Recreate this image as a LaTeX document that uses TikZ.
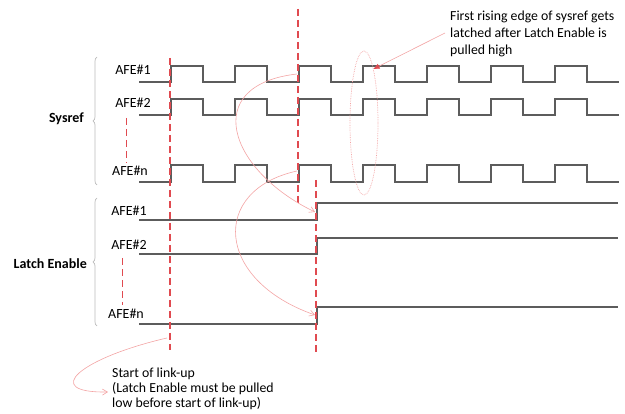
\documentclass[tikz,border=0pt]{standalone}
\usepackage{fontspec}
\setmainfont{Carlito}
\usepackage{tikz}
\usetikzlibrary{positioning, arrows.meta, shapes.geometric, decorations.pathreplacing}
\definecolor{wavegray}{HTML}{5C5C5C}
\definecolor{markred}{HTML}{E04A50}
\definecolor{annopink}{HTML}{F3A3A3}
\definecolor{bracegray}{HTML}{BBBBBB}

\begin{document}
\begin{tikzpicture}[
    x=1pt, y=-1pt,
    wave/.style={draw=wavegray, line width=1.3pt, line join=miter},
    markline/.style={draw=markred, line width=1.2pt, dash pattern=on 7pt off 4pt},
    annot/.style={draw=annopink, line width=0.6pt, -{Straight Barb[length=5pt, width=6pt]}},
    afelabel/.style={font=\fontsize{14}{16}\selectfont, inner sep=0pt},
    grouplabel/.style={font=\fontsize{14}{16}\selectfont\bfseries, inner sep=0pt},
    notetext/.style={font=\fontsize{13.8}{17}\selectfont, align=left, inner sep=0pt},
    linktext/.style={font=\fontsize{13.8}{15}\selectfont, align=left, inner sep=0pt},
    groupbrace/.style={draw=bracegray, line width=0.7pt, decorate, decoration={brace, amplitude=4pt}}
]
\useasboundingbox (0,0) rectangle (625,414);

% --- LABELS ---
\node[grouplabel, anchor=east] (sysref) at (84,119) {Sysref};
\node[grouplabel, anchor=east] (latch) at (87,264) {Latch Enable};

\node[afelabel] (s1) at (133,70) {AFE\#1};
\node[afelabel] (s2) at (133,103) {AFE\#2};
\node[afelabel] (sn) at (130,171) {AFE\#n};
\node[afelabel] (l1) at (129,211) {AFE\#1};
\node[afelabel] (l2) at (129,245) {AFE\#2};
\node[afelabel] (ln) at (126,314) {AFE\#n};

% Klammern
\draw[groupbrace] (97,185) -- (97,57);
\draw[groupbrace] (97,326) -- (97,198);

% kleine Striche zwischen AFE#2 und AFE#n
\draw[markline, line width=1pt] (126,118) -- (126,163);
\draw[markline, line width=1pt] (122,258) -- (122,305);

% --- SIGNALE ---
% Sysref: Takt mit Periode 64
\foreach \hi/\lo in {66/82, 99/115, 165/182}
  \draw[wave] (139,\lo) -- (171,\lo)
    foreach \k in {0,...,6} { -- ++(0,\hi-\lo) -- ++(32,0) -- ++(0,\lo-\hi) -- ++(32,0) };

% Latch Enable: Sprung bei x=317
\foreach \hi/\lo in {203/220, 238/254, 307/324}
  \draw[wave] (139,\lo) -- (317,\lo) -- (317,\hi) -- (618,\hi);

% --- MARKIERUNGEN ---
\coordinate (linkstart) at (170,58);
\coordinate (linkend) at (170,350);
\coordinate (sysedge) at (298,9);
\coordinate (sysedgeend) at (298,203);
\coordinate (latchedge) at (316,180);
\coordinate (latchedgeend) at (316,352);

\draw[markline] (linkstart) -- (linkend);
\draw[markline] (sysedge) -- (sysedgeend);
\draw[markline] (latchedge) -- (latchedgeend);

% --- ANMERKUNGEN ---
\coordinate (s1rise) at (297,74);
\coordinate (snrise) at (297,171);
\coordinate (l1rise) at (315,212);
\coordinate (lnrise) at (315,315);

\draw[annot] (s1rise) .. controls (200,85) and (228,170) .. (l1rise);
\draw[annot] (snrise) .. controls (210,190) and (215,280) .. (lnrise);

\node[draw=annopink, densely dotted, line width=0.7pt, ellipse, minimum width=28pt, minimum height=144pt, inner sep=0pt] (latchring) at (364,123) {};

\node[notetext, anchor=north west] (note) at (450,11)
  {First rising edge of sysref gets\\latched after Latch Enable is\\pulled high};
\coordinate (notetail) at (445,33);
\draw[draw=annopink, line width=0.6pt, -{Triangle[length=6pt, width=5pt, color=markred, fill=markred]}] (notetail) -- (latchring.80);

\coordinate (linktail) at (167,338);
\coordinate (linkhead) at (108,392);
\node[linktext, anchor=north west] (linknote) at (112,368)
  {Start of link-up\\(Latch Enable must be pulled\\low before start of link-up)};
\draw[annot] (linktail) .. controls (80,358) and (40,393) .. (linkhead);

\end{tikzpicture}
\end{document}
